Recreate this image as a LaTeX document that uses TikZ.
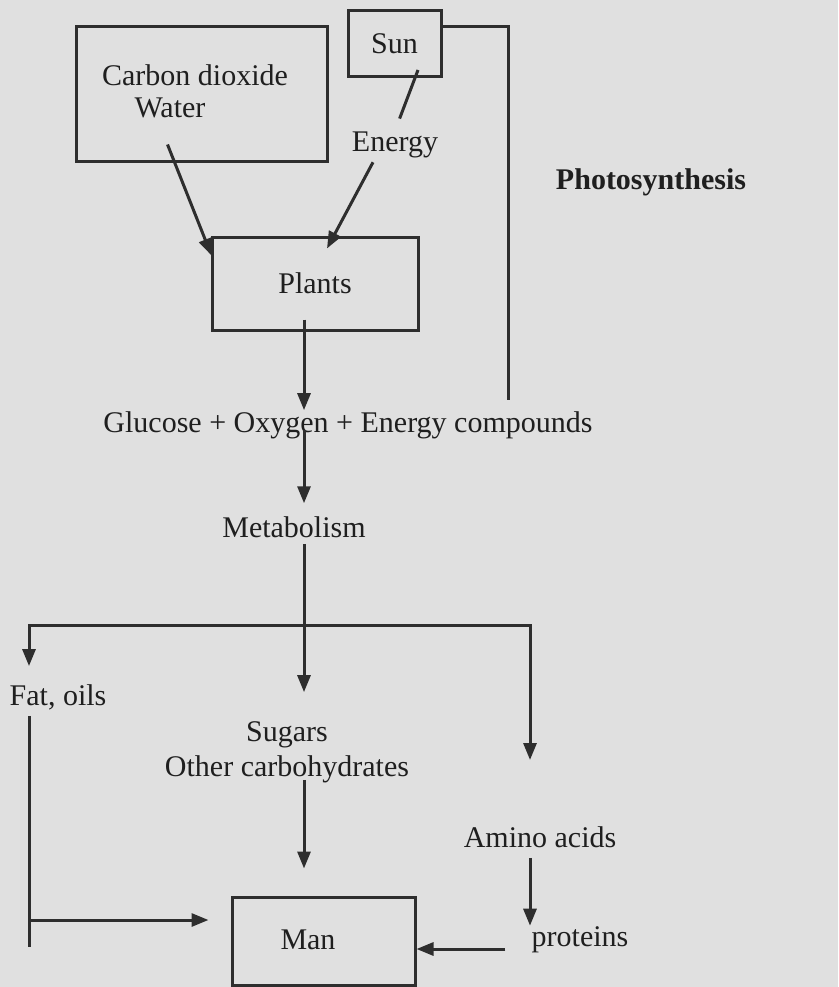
\documentclass[tikz,border=0pt]{standalone}
\usepackage{fontspec}
\setmainfont{Liberation Serif}
\usetikzlibrary{arrows.meta,calc}

\begin{document}
\begin{tikzpicture}[x = 1pt, y = -1pt, inner sep = 1pt,
	font = \fontsize{30}{35}\selectfont, text = black!88,
	box/.style = {draw = black!82, line width = 3pt, inner sep = 0pt},
	wire/.style = {draw = black!82, line width = 3pt},
	arr/.style = {wire, -{Triangle[length = 17pt, width = 13pt]}}]
	\fill[black!12] (0,0) rectangle (838,987);
	\useasboundingbox (0,0) rectangle (838,987);

	\node[box, minimum width = 251pt, minimum height = 135pt] (CO2) at (201.5,94.5) {};
	\node (CD) at (195,75) {Carbon dioxide};
	\node (WAT) at (170,108) {Water};
	\node[box, minimum width = 93pt, minimum height = 66pt] (SUN) at (394.5,44) {Sun};
	\node (EN) at (395,145) {Energy};
	\node[box, minimum width = 206pt, minimum height = 93pt] (PL) at (315,283.5) {Plants};
	\node[font = \fontsize{30}{35}\selectfont\bfseries] (PHO) at (651,182) {Photosynthesis};
	\node (GLU) at (348,425) {Glucose + Oxygen + Energy compounds};
	\node (MET) at (294,527) {Metabolism};
	\node (FAT) at (58,697) {Fat, oils};
	\node[align = center] (SUG) at (287,752) {Sugars\\Other carbohydrates};
	\node (AMI) at (540,837) {Amino acids};
	\node (PRO) at (580,940) {proteins};
	\node[box, minimum width = 183pt, minimum height = 88pt] (MAN) at (323.5,941) {};
	\node (MT) at (308,940) {Man};

	\coordinate (RAY) at (418,70);
	\coordinate (PX) at (508,27);
	\coordinate (SP) at (304,625);
	\coordinate (LC) at (29,625);
	\coordinate (RC) at (530,625);
	\coordinate (AT) at (530,760);
	\coordinate (BR) at (29,920);
	\coordinate (FE) at (29,947);

	\draw[wire, shorten > = 13pt] (RAY) -- (EN.north);
	\draw[arr] ($(EN.south)+(-22,3)$) -- ($(PL.north)+(12,13)$);
	\draw[arr] ($(CO2.south)+(-34,-19)$) -- ($(PL.north west)+(1,20)$);
	\draw[wire] ($(SUN.east)+(0,-17)$) -- (PX) -- ($(PX |- GLU.north)+(0,-10)$);
	\draw[arr] ($(PL.south -| SP)+(0,-12)$) -- (GLU.north -| SP);
	\draw[arr] ($(GLU.center -| SP)+(0,5)$) -- ($(MET.north -| SP)+(0,-12)$);
	\draw[wire] ($(MET.south -| SP)+(0,5)$) -- (SP);
	\draw[arr, shorten > = 17pt] (SP) -- (LC) -- (LC |- FAT.north);
	\draw[arr, shorten > = 28pt] (SP) -- (SUG.north -| SP);
	\draw[arr] (SP) -- (RC) -- (AT);
	\draw[wire] ($(LC |- FAT.south)+(0,5)$) -- (FE);
	\draw[arr, shorten > = 22pt] (BR) -- (BR -| MAN.west);
	\draw[arr] ($(SUG.south -| SP)+(0,-4)$) -- ($(MAN.north -| SP)+(0,-27)$);
	\draw[arr] ($(AMI.south -| RC)+(0,9)$) -- (PRO.north -| RC);
	\draw[arr] ($(PRO.west)+(-25,9)$) -- ($(MAN.east)+(0,8)$);
\end{tikzpicture}
\end{document}
